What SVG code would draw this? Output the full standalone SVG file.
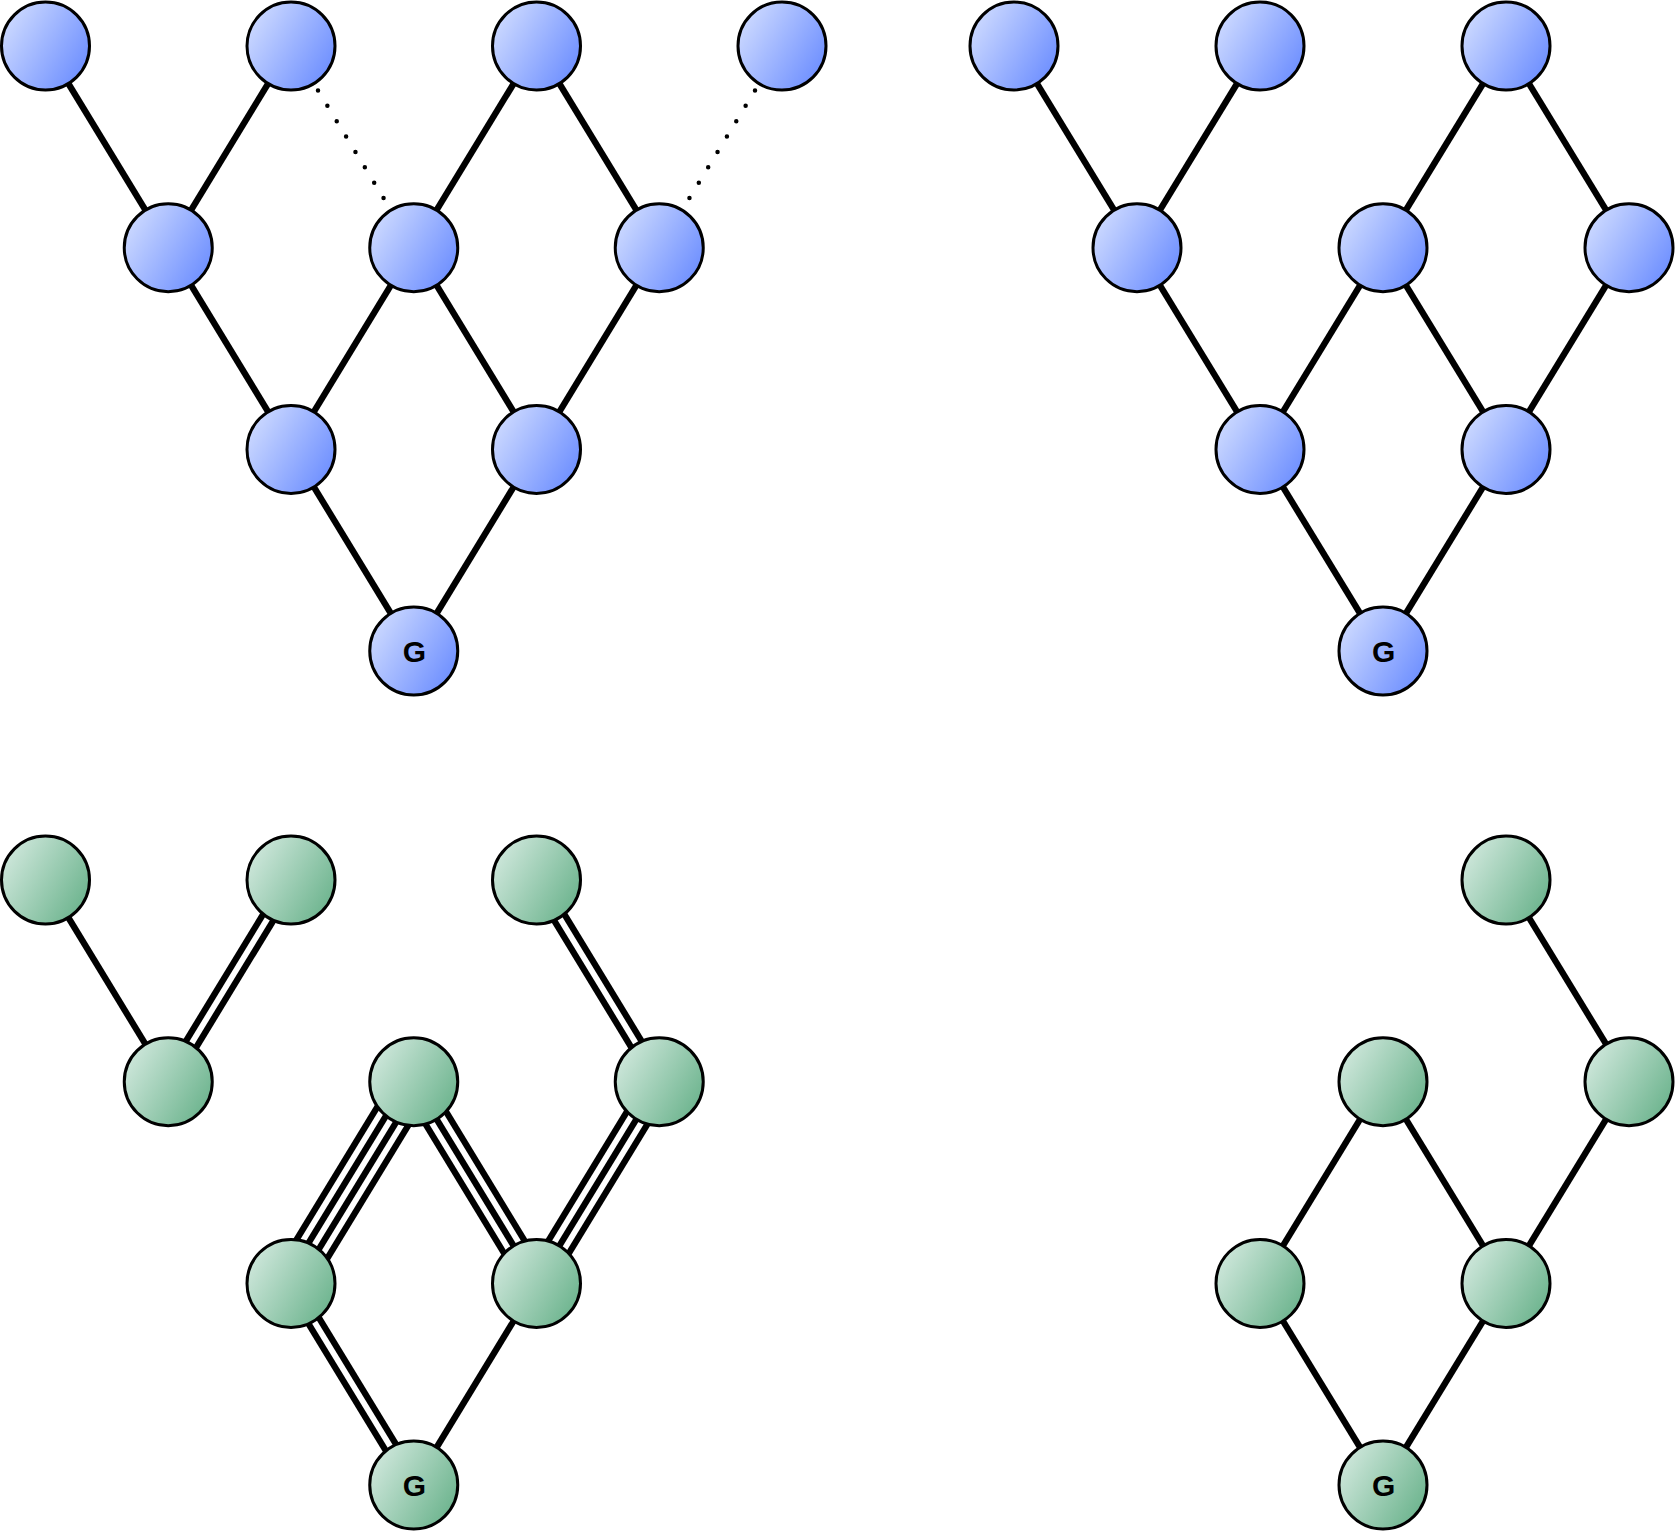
<svg xmlns="http://www.w3.org/2000/svg" width="1677" height="1532" viewBox="0 0 1677 1532">
<defs>
<linearGradient id="gb" x1="0" y1="0.2" x2="1" y2="0.8">
<stop offset="0" stop-color="#d0dcff"/>
<stop offset="1" stop-color="#6a8cff"/>
</linearGradient>
<linearGradient id="gg" x1="0" y1="0.2" x2="1" y2="0.8">
<stop offset="0" stop-color="#d2e9de"/>
<stop offset="1" stop-color="#69b28b"/>
</linearGradient>
</defs>
<style>
.e{stroke:#000;stroke-width:6.3;fill:none}
.d{stroke:#000;stroke-width:4.5;fill:none;stroke-linecap:round;stroke-dasharray:0 18}
.b{fill:url(#gb);stroke:#000;stroke-width:3}
.g{fill:url(#gg);stroke:#000;stroke-width:3}
.t{font-family:"Liberation Sans",Arial,sans-serif;font-weight:bold;font-size:30px;text-anchor:middle;fill:#000}
</style>
<rect width="1677" height="1532" fill="#fff"/>
<g id="connectors">
<!-- top-left -->
<line class="e" x1="45.5" y1="46" x2="168.25" y2="247.7"/>
<line class="e" x1="291" y1="46" x2="168.25" y2="247.7"/>
<line class="e" x1="536.5" y1="46" x2="413.75" y2="247.7"/>
<line class="e" x1="536.5" y1="46" x2="659.25" y2="247.7"/>
<line class="e" x1="168.25" y1="247.7" x2="291" y2="449.4"/>
<line class="e" x1="413.75" y1="247.7" x2="291" y2="449.4"/>
<line class="e" x1="413.75" y1="247.7" x2="536.5" y2="449.4"/>
<line class="e" x1="659.25" y1="247.7" x2="536.5" y2="449.4"/>
<line class="e" x1="291" y1="449.4" x2="413.75" y2="651"/>
<line class="e" x1="536.5" y1="449.4" x2="413.75" y2="651"/>
<line class="d" x1="318" y1="90.4" x2="383.6" y2="198.1"/>
<line class="d" x1="755" y1="90.4" x2="689.4" y2="198.1"/>
<!-- top-right -->
<line class="e" x1="1014" y1="46" x2="1137" y2="247.7"/>
<line class="e" x1="1260" y1="46" x2="1137" y2="247.7"/>
<line class="e" x1="1506" y1="46" x2="1383" y2="247.7"/>
<line class="e" x1="1506" y1="46" x2="1629" y2="247.7"/>
<line class="e" x1="1137" y1="247.7" x2="1260" y2="449.4"/>
<line class="e" x1="1383" y1="247.7" x2="1260" y2="449.4"/>
<line class="e" x1="1383" y1="247.7" x2="1506" y2="449.4"/>
<line class="e" x1="1629" y1="247.7" x2="1506" y2="449.4"/>
<line class="e" x1="1260" y1="449.4" x2="1383" y2="651"/>
<line class="e" x1="1506" y1="449.4" x2="1383" y2="651"/>
<!-- bottom-left -->
<line class="e" x1="45.5" y1="880" x2="168.25" y2="1081.7"/>
<line class="e" x1="296.13" y1="883.12" x2="173.38" y2="1084.82"/>
<line class="e" x1="285.87" y1="876.88" x2="163.12" y2="1078.58"/>
<line class="e" x1="541.63" y1="876.88" x2="664.38" y2="1078.58"/>
<line class="e" x1="531.37" y1="883.12" x2="654.12" y2="1084.82"/>
<line class="e" x1="429.13" y1="1091.06" x2="306.38" y2="1292.76"/>
<line class="e" x1="418.88" y1="1084.82" x2="296.13" y2="1286.52"/>
<line class="e" x1="408.62" y1="1078.58" x2="285.87" y2="1280.28"/>
<line class="e" x1="398.37" y1="1072.34" x2="275.62" y2="1274.04"/>
<line class="e" x1="413.75" y1="1081.7" x2="536.5" y2="1283.4"/>
<line class="e" x1="424" y1="1075.46" x2="546.75" y2="1277.16"/>
<line class="e" x1="403.5" y1="1087.94" x2="526.25" y2="1289.64"/>
<line class="e" x1="659.25" y1="1081.7" x2="536.5" y2="1283.4"/>
<line class="e" x1="669.5" y1="1087.94" x2="546.75" y2="1289.64"/>
<line class="e" x1="649" y1="1075.46" x2="526.25" y2="1277.16"/>
<line class="e" x1="296.13" y1="1280.28" x2="418.88" y2="1481.88"/>
<line class="e" x1="285.87" y1="1286.52" x2="408.62" y2="1488.12"/>
<line class="e" x1="536.5" y1="1283.4" x2="413.75" y2="1485"/>
<!-- bottom-right -->
<line class="e" x1="1506" y1="880" x2="1629" y2="1081.7"/>
<line class="e" x1="1383" y1="1081.7" x2="1260" y2="1283.4"/>
<line class="e" x1="1383" y1="1081.7" x2="1506" y2="1283.4"/>
<line class="e" x1="1629" y1="1081.7" x2="1506" y2="1283.4"/>
<line class="e" x1="1260" y1="1283.4" x2="1383" y2="1485"/>
<line class="e" x1="1506" y1="1283.4" x2="1383" y2="1485"/>
</g>
<!-- top-left nodes -->
<g id="tl-a"><circle class="b" cx="45.5" cy="46" r="44"/></g>
<g id="tl-b"><circle class="b" cx="291" cy="46" r="44"/></g>
<g id="tl-c"><circle class="b" cx="536.5" cy="46" r="44"/></g>
<g id="tl-d"><circle class="b" cx="782" cy="46" r="44"/></g>
<g id="tl-e"><circle class="b" cx="168.25" cy="247.7" r="44"/></g>
<g id="tl-f"><circle class="b" cx="413.75" cy="247.7" r="44"/></g>
<g id="tl-g"><circle class="b" cx="659.25" cy="247.7" r="44"/></g>
<g id="tl-h"><circle class="b" cx="291" cy="449.4" r="44"/></g>
<g id="tl-i"><circle class="b" cx="536.5" cy="449.4" r="44"/></g>
<g id="tl-G"><circle class="b" cx="413.75" cy="651" r="44"/><text class="t" x="414.5" y="662">G</text></g>
<!-- top-right nodes -->
<g id="tr-a"><circle class="b" cx="1014" cy="46" r="44"/></g>
<g id="tr-b"><circle class="b" cx="1260" cy="46" r="44"/></g>
<g id="tr-c"><circle class="b" cx="1506" cy="46" r="44"/></g>
<g id="tr-d"><circle class="b" cx="1137" cy="247.7" r="44"/></g>
<g id="tr-e"><circle class="b" cx="1383" cy="247.7" r="44"/></g>
<g id="tr-f"><circle class="b" cx="1629" cy="247.7" r="44"/></g>
<g id="tr-g"><circle class="b" cx="1260" cy="449.4" r="44"/></g>
<g id="tr-h"><circle class="b" cx="1506" cy="449.4" r="44"/></g>
<g id="tr-G"><circle class="b" cx="1383" cy="651" r="44"/><text class="t" x="1383.75" y="662">G</text></g>
<!-- bottom-left nodes -->
<g id="bl-a"><circle class="g" cx="45.5" cy="880" r="44"/></g>
<g id="bl-b"><circle class="g" cx="291" cy="880" r="44"/></g>
<g id="bl-c"><circle class="g" cx="536.5" cy="880" r="44"/></g>
<g id="bl-d"><circle class="g" cx="168.25" cy="1081.7" r="44"/></g>
<g id="bl-e"><circle class="g" cx="413.75" cy="1081.7" r="44"/></g>
<g id="bl-f"><circle class="g" cx="659.25" cy="1081.7" r="44"/></g>
<g id="bl-g"><circle class="g" cx="291" cy="1283.4" r="44"/></g>
<g id="bl-h"><circle class="g" cx="536.5" cy="1283.4" r="44"/></g>
<g id="bl-G"><circle class="g" cx="413.75" cy="1485" r="44"/><text class="t" x="414.5" y="1496">G</text></g>
<!-- bottom-right nodes -->
<g id="br-a"><circle class="g" cx="1506" cy="880" r="44"/></g>
<g id="br-b"><circle class="g" cx="1383" cy="1081.7" r="44"/></g>
<g id="br-c"><circle class="g" cx="1629" cy="1081.7" r="44"/></g>
<g id="br-d"><circle class="g" cx="1260" cy="1283.4" r="44"/></g>
<g id="br-e"><circle class="g" cx="1506" cy="1283.4" r="44"/></g>
<g id="br-G"><circle class="g" cx="1383" cy="1485" r="44"/><text class="t" x="1383.75" y="1496">G</text></g>
</svg>
